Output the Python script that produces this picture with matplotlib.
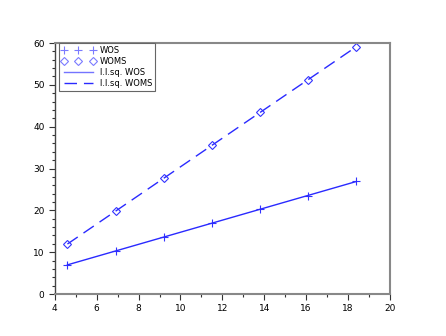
import numpy as np
import matplotlib
matplotlib.use('Agg')
import matplotlib.pyplot as plt
from matplotlib.ticker import MultipleLocator

x = [4.6, 6.9, 9.2, 11.5, 13.8, 16.1, 18.4]
wos = [7.0, 10.3, 13.6, 16.9, 20.2, 23.5, 27.0]
woms = [11.9, 19.8, 27.7, 35.6, 43.4, 51.2, 59.1]

fig = plt.figure(figsize=(4.46, 3.36), dpi=100)
ax = fig.add_axes([0.123, 0.125, 0.751, 0.747])

xs = np.array(x)
p1 = np.polyfit(xs, wos, 1)
p2 = np.polyfit(xs, woms, 1)

ax.plot(x, wos, '+', color='#3333ff', ms=6, mew=0.8, label='WOS')
ax.plot(x, woms, 'D', color='#3333ff', mfc='none', ms=4, mew=0.8, label='WOMS')
ax.plot(xs, np.polyval(p1, xs), '-', color='#2a2aff', lw=1, label='l.l.sq. WOS')
ax.plot(xs, np.polyval(p2, xs), '--', color='#2a2aff', lw=1, dashes=(9, 5), label='l.l.sq. WOMS')

ax.set_xlim(4, 20)
ax.set_ylim(0, 60)
ax.xaxis.set_major_locator(MultipleLocator(2))
ax.xaxis.set_minor_locator(MultipleLocator(1))
ax.yaxis.set_major_locator(MultipleLocator(10))
ax.yaxis.set_minor_locator(MultipleLocator(2))
ax.tick_params(which='both', direction='out', labelsize=6.5, width=0.8, color='#333333')
ax.tick_params(which='major', length=4)
ax.tick_params(which='minor', length=2.5)
for s in ['top', 'right', 'bottom']:
    ax.spines[s].set_color('#888888')
    ax.spines[s].set_linewidth(1.5)
ax.spines['left'].set_color('#444444')
ax.spines['left'].set_linewidth(1)

leg = ax.legend(loc='upper left', bbox_to_anchor=(0.012, 1.0), borderaxespad=0,
                numpoints=3, fontsize=6, fancybox=False,
                edgecolor='#666666', framealpha=1,
                handlelength=4.0, handletextpad=0.6, labelspacing=0.25, borderpad=0.35)
leg.get_frame().set_linewidth(0.8)
for h in leg.legend_handles[:3]:
    h.set_alpha(0.65)

fig.savefig('out.png', dpi=100)
